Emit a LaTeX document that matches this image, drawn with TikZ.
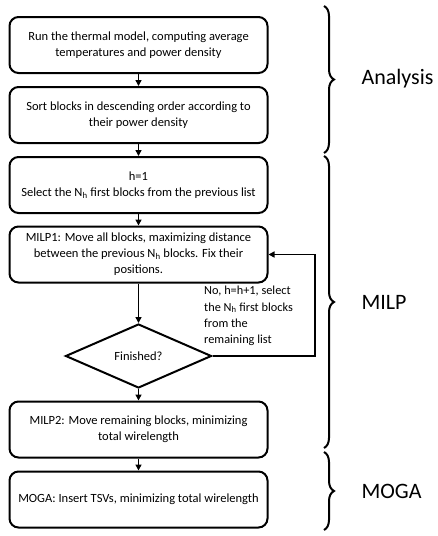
\documentclass[tikz,border=0pt]{standalone}
\usepackage{fontspec}
\setmainfont{Carlito}
\usetikzlibrary{shapes.geometric,arrows.meta,decorations.pathreplacing}
\tikzset{
  stepbox/.style={draw, line width=2pt, rounded corners=9pt, minimum width=258pt, minimum height=56pt, align=center, font=\fontsize{12.5}{16}\selectfont, inner sep=2pt},
  decide/.style={draw, line width=2pt, diamond, minimum width=146pt, minimum height=64pt, inner sep=0pt, font=\fontsize{12.5}{16}\selectfont},
  flow/.style={line width=1.6pt, -{Triangle[length=6pt,width=6pt]}},
  bracedeco/.style={line width=2pt, decorate, decoration={brace, amplitude=10pt}},
  bracelabel/.style={font=\fontsize{22}{26}\selectfont, anchor=west}
}
\begin{document}
\begin{tikzpicture}[x=1pt,y=-1pt]
\useasboundingbox (0,0) rectangle (437,536);
\node[stepbox] (b1) at (138.5,45) {Run the thermal model, computing average\\temperatures and power density};
\node[stepbox] (b2) at (138.5,115) {Sort blocks in descending order according to\\their power density};
\node[stepbox] (b3) at (138.5,185) {h=1\\Select the N\textsubscript{h} first blocks from the previous list};
\node[stepbox] (b4) at (138.5,254.5) {MILP1: Move all blocks, maximizing distance\\between the previous N\textsubscript{h} blocks. Fix their\\positions.};
\node[decide] (d) at (138.5,356) {Finished?};
\node[stepbox] (b5) at (138.5,429.5) {MILP2: Move remaining blocks, minimizing\\total wirelength};
\node[stepbox] (b6) at (138.5,499.5) {MOGA: Insert TSVs, minimizing total wirelength};
\draw[flow] (b1) -- (b2);
\draw[flow] (b2) -- (b3);
\draw[flow] (b3) -- (b4);
\draw[flow] (b4) -- (d);
\draw[flow] (d) -- (b5);
\draw[flow] (b5) -- (b6);
\coordinate (c1) at (315,356);
\coordinate (c2) at (315,254.5);
\draw[flow] (d.east) -- (c1) -- (c2) -- (b4.east);
\node[anchor=north west, align=left, inner sep=0pt, font=\fontsize{12.3}{16.3}\selectfont] (lbl) at (204,286) {No, h=h+1, select\\the N\textsubscript{h} first blocks\\from the\\remaining list};
\coordinate (a1) at (324,6);
\coordinate (a2) at (324,153);
\coordinate (m1) at (324,156);
\coordinate (m2) at (324,448);
\coordinate (g1) at (324,452);
\coordinate (g2) at (324,530);
\draw[bracedeco] (a1) -- (a2);
\draw[bracedeco] (m1) -- (m2);
\draw[bracedeco] (g1) -- (g2);
\node[bracelabel] (la) at (358,79) {Analysis};
\node[bracelabel] (lm) at (358,302) {MILP};
\node[bracelabel] (lg) at (358,491) {MOGA};
\end{tikzpicture}
\end{document}
